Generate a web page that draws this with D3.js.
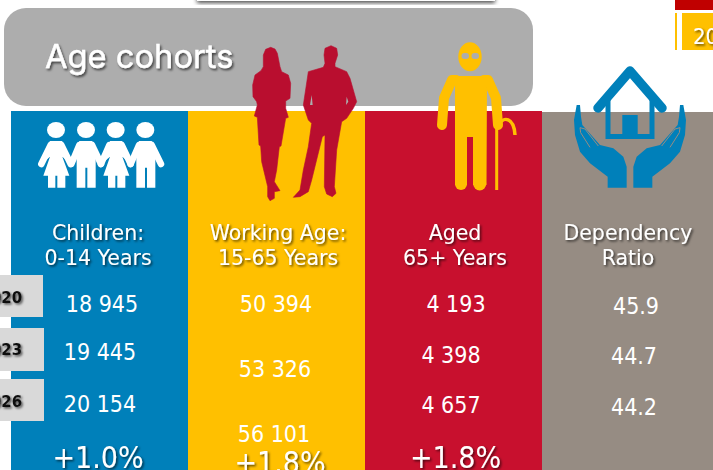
<!DOCTYPE html>
<html><head><meta charset="utf-8">
<script src="https://cdn.jsdelivr.net/npm/d3@7"></script>
<style>html,body{margin:0;padding:0;background:#fff;overflow:hidden}svg{display:block}text{font-family:"DejaVu Sans Condensed","DejaVu Sans",sans-serif;font-stretch:condensed}</style>
</head><body><div id="c"></div>
<script>
const categories = ["Children","Working Age","Aged","Dependency Ratio"];
const headerLine1 = ["Children:","Working Age:","Aged","Dependency"];
const headerLine2 = ["0-14 Years","15-65 Years","65+ Years","Ratio"];
const years = ["2020","2023","2026"];
const children = ["18 945","19 445","20 154"];
const workingAge = ["50 394","53 326","56 101"];
const aged = ["4 193","4 398","4 657"];
const dependency = ["45.9","44.7","44.2"];
const growth = ["+1.0%","+1.8%","+1.8%",null];
const colours = ["#0080ba","#ffc000","#c8102e","#968c83"];

const W=713,H=470;
const svg=d3.select("#c").append("svg").attr("width",W).attr("height",H);
const defs=svg.append("defs");
function shadow(id,dx,dy,sd,op){const f=defs.append("filter").attr("id",id).attr("x","-20%").attr("y","-30%").attr("width","150%").attr("height","170%");
 f.append("feDropShadow").attr("dx",dx).attr("dy",dy).attr("stdDeviation",sd).attr("flood-color","#000").attr("flood-opacity",op);}
shadow("ts",1.5,1.5,.8,.65);shadow("tb",1.5,2,1,.6);shadow("top",0,2,2,.7);

const x=d3.scaleBand().domain(categories).range([11,719]);
const poly=d3.line();
// icon outlines are traced at 3x, anchored at a crop origin
const traced=(ox,oy)=>pts=>poly(pts.map(([a,b])=>[ox+a/3,oy+b/3]));

// top fragments
svg.append("rect").attr("x",197).attr("y",-8).attr("width",298).attr("height",9).attr("fill","#fff").attr("filter","url(#top)");
svg.append("rect").attr("x",675).attr("y",0).attr("width",38).attr("height",10).attr("fill","#c00000");
svg.append("rect").attr("x",675).attr("y",13).attr("width",2).attr("height",37).attr("fill","#ffc000");
svg.append("rect").attr("x",682).attr("y",13).attr("width",31).attr("height",37).attr("fill","#ffc000");
svg.append("text").attr("x",693).attr("y",44).attr("fill","#fff").attr("font-size",22).attr("font-weight",400).attr("filter","url(#ts)").text("2020");

// header pill
svg.append("rect").attr("x",4).attr("y",8).attr("width",529).attr("height",98).attr("rx",22).attr("fill","#adadad");
svg.append("text").attr("x",45).attr("y",68).attr("fill","#fff").attr("stroke","#fff").attr("stroke-width",.4).attr("font-size",32.7).attr("filter","url(#tb)").style("font-family","Inter,sans-serif").style("font-stretch","normal").text("Age cohorts");

// columns
svg.selectAll("rect.col").data(categories).join("rect").attr("class","col")
 .attr("x",d=>x(d)).attr("y",(d,i)=>i==3?112:111).attr("width",x.bandwidth()).attr("height",H-110)
 .attr("fill",(d,i)=>colours[i]);

// year tags
const tagY=[275,328,379],tagH=[42,43,42],tagW=[43,44,44],tagBase=[303,355,407];
years.forEach((y,i)=>{
 svg.append("rect").attr("x",0).attr("y",tagY[i]).attr("width",tagW[i]).attr("height",tagH[i]).attr("fill","#d9d9d9");
 svg.append("text").attr("x",22).attr("y",tagBase[i]).attr("text-anchor","end").attr("font-size",16.5).attr("font-weight",700).attr("fill","#111").attr("filter","url(#ts)").text(y);
});

// headers
const hc=[98,278,455,628];
categories.forEach((c,i)=>{
 [[headerLine1,240],[headerLine2,265]].forEach(([ln,by])=>{
  svg.append("text").attr("x",hc[i]).attr("y",by).attr("text-anchor","middle").attr("fill","#fff").attr("font-size",20.5)
   .attr("filter","url(#ts)").style("font-family","'DejaVu Sans',sans-serif").style("font-stretch","normal").text(ln[i]);
 });
});

// values
const series=[children,workingAge,aged,dependency];
const vx=[[102,100,100],[276,275,274],[456,451,451],[636,634,634]];
const vy=[[312,360,412],[312,377,442],[312,363,413],[314,364,415]];
series.forEach((s,c)=>s.forEach((v,r)=>{
 svg.append("text").attr("x",vx[c][r]).attr("y",vy[c][r]).attr("text-anchor","middle").attr("fill","#fff").attr("font-size",23).text(v);
}));
const gx=[98,280,455.5],gy=[468,473,468];
growth.forEach((g,i)=>{ if(g) svg.append("text").attr("x",gx[i]).attr("y",gy[i]).attr("text-anchor","middle").attr("fill","#fff").attr("font-size",30).attr("filter","url(#ts)").text(g);});

// children icon
const k=traced(30,115), kg=svg.append("g").attr("fill","#fff");
const girl=[[60,78],[96,78],[122,147],[97,125],[118,182],[106,182],[106,218],[82,218],[82,182],[76,182],[76,218],[54,218],[54,182],[40,182],[60,125],[34,147]];
const boy=[[148,78],[186,78],[213,147],[197,125],[197,218],[172,218],[172,158],[166,158],[166,218],[140,218],[140,125],[124,147]];
const shift=(pts,d)=>pts.map(([a,b])=>[a+d,b]);
const arm=(pts)=>kg.append("path").attr("d",k(pts)).attr("fill","none").attr("stroke","#fff").attr("stroke-width",6.5).attr("stroke-linecap","round").attr("stroke-linejoin","round");
[[girl,0,78],[boy,0,168],[girl,180,257],[boy,179,346]].forEach(([p,d,h])=>{
 kg.append("path").attr("d",k(shift(p,d))+"Z");
 kg.append("ellipse").attr("cx",30+h/3).attr("cy",130).attr("rx",9).attr("ry",8);
});
[[[62,90],[34,147]],[[94,90],[122,147]],[[148,90],[124,147]],[[186,90],[213,147]],[[238,90],[213,147]],[[275,90],[302,147]],[[327,90],[302,147]],[[365,90],[393,147]]].forEach(arm);

// woman and man silhouettes
const s=traced(245,40), crimson="#b90e2f";
const woman=[[77,22],[90,27],[97,40],[105,80],[110,95],[130,105],[137,130],[135,175],[122,183],[122,205],[130,232],[122,235],[108,318],[103,320],[95,390],[88,425],[105,452],[88,455],[88,475],[75,482],[68,470],[68,440],[50,365],[47,318],[42,315],[37,232],[28,228],[37,195],[35,185],[24,170],[23,135],[30,105],[48,92],[55,80],[55,45],[62,28]];
const man=[[258,17],[275,25],[278,45],[270,70],[270,80],[305,95],[315,115],[335,185],[325,205],[305,235],[290,245],[275,330],[268,440],[273,460],[262,470],[245,462],[238,440],[240,285],[232,290],[200,420],[190,455],[165,470],[145,472],[165,450],[175,390],[190,320],[200,250],[190,240],[175,195],[190,95],[235,82],[240,70],[237,45],[240,25]];
svg.append("path").attr("d",s(woman)+"Z").attr("fill",crimson).attr("stroke",crimson).attr("stroke-width",.6);
svg.append("path").attr("d",s(man)+"Z").attr("fill",crimson).attr("stroke",crimson).attr("stroke-width",.6);
svg.append("path").attr("d",s([[200,165],[195,195],[203,195]])+"Z").attr("fill","#adadad");
svg.append("path").attr("d",s([[305,170],[303,195],[310,185]])+"Z").attr("fill","#adadad");

// old man
const og=svg.append("g").attr("fill","#ffc000");
og.append("ellipse").attr("cx",470).attr("cy",56.7).attr("rx",11.7).attr("ry",14.5);
og.append("rect").attr("x",461.5).attr("y",53).attr("width",7.5).attr("height",6).attr("rx",3).attr("fill","#adadad");
og.append("rect").attr("x",471.5).attr("y",53).attr("width",7.5).attr("height",6).attr("rx",3).attr("fill","#adadad");
og.append("path").attr("d",poly([[455,78],[487,78],[486.5,185],[473,185],[473,137],[467,137],[467,185],[455,185]])+"Z");
og.append("circle").attr("cx",461).attr("cy",184).attr("r",6);
og.append("circle").attr("cx",479.7).attr("cy",184).attr("r",6.5);
og.append("path").attr("d",poly([[456,80],[452,80],[444,98],[442,125]])).attr("fill","none").attr("stroke","#ffc000").attr("stroke-width",10).attr("stroke-linecap","round").attr("stroke-linejoin","round");
og.append("path").attr("d",poly([[484,80],[488,80],[496,98],[498,125]])).attr("fill","none").attr("stroke","#ffc000").attr("stroke-width",10).attr("stroke-linecap","round").attr("stroke-linejoin","round");
og.append("path").attr("d",poly([[452,76],[488,76],[488,85],[452,85]])+"Z");
og.append("path").attr("d","M496.7,128V190").attr("stroke","#ffc000").attr("stroke-width",3).attr("fill","none");
og.append("path").attr("d","M499,125C503,116 514,117 515,135").attr("stroke","#ffc000").attr("stroke-width",3.5).attr("fill","none");

// house and hands
const hb="#0080ba", hg=svg.append("g"), h=traced(570,60);
hg.append("path").attr("d",poly([[598,108],[630,71],[662,108]])).attr("fill","none").attr("stroke",hb).attr("stroke-width",9.5).attr("stroke-linecap","round").attr("stroke-linejoin","round");
hg.append("path").attr("d",poly([[608,97],[608,136.5],[652,136.5],[652,97]])).attr("fill","none").attr("stroke",hb).attr("stroke-width",5);
hg.append("rect").attr("x",622.3).attr("y",115).attr("width",15.4).attr("height",19).attr("fill",hb);
const hand=[[20,135],[30,135],[33,170],[37,195],[90,255],[130,265],[160,290],[170,320],[170,383],[113,383],[113,350],[60,310],[30,275],[15,225],[12,180]];
const thumb=[[85,258],[45,207],[30,203],[32,218],[60,262]];
[0,1].forEach(m=>{
 const g=hg.append("g").attr("transform",m?"translate(1260,0) scale(-1,1)":null);
 g.append("path").attr("d",h(hand)+"Z").attr("fill",hb);
 g.append("path").attr("d",h(thumb)).attr("fill","none").attr("stroke","#968c83").attr("stroke-width",1);
});
</script></body></html>
